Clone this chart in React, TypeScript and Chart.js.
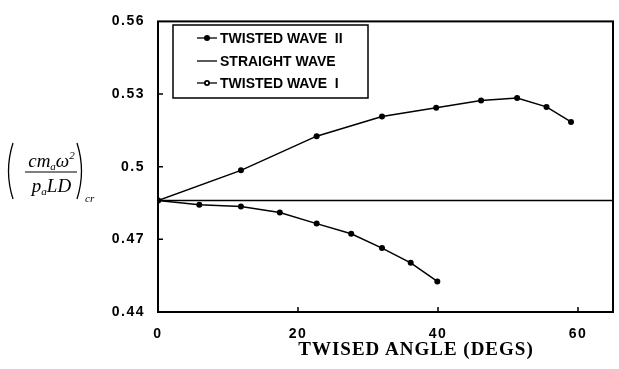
import React, { useEffect, useRef } from "react";
import { Chart, registerables } from "chart.js";

Chart.register(...registerables);

const xTicks = [0, 20, 40, 60];
const yTicks = [0.44, 0.47, 0.5, 0.53, 0.56];

const waveIIx = [0, 11.85, 22.66, 32.0, 39.74, 46.15, 51.3, 55.5, 59.0];
const waveIIy = [0.486, 0.4985, 0.5126, 0.5207, 0.5243, 0.5273, 0.5284, 0.5247, 0.5185];

const straightX = [0, 65];
const straightY = [0.486, 0.486];

const waveIx = [0, 5.9, 11.85, 17.4, 22.66, 27.6, 32.0, 36.1, 39.9];
const waveIy = [0.486, 0.4843, 0.4836, 0.4811, 0.4765, 0.4723, 0.4664, 0.4603, 0.4526];

const legendLabels = ["TWISTED WAVE  II", "STRAIGHT WAVE", "TWISTED WAVE  I"];
const xTitle = "TWISED ANGLE (DEGS)";

const pts = (xs: number[], ys: number[]) => xs.map((x, i) => ({ x, y: ys[i] }));

const framePlugin = {
  id: "frame",
  beforeDraw(chart: any) {
    chart.ctx.letterSpacing = "1.5px";
  },
  afterDraw(chart: any) {
    const { ctx, chartArea } = chart;
    ctx.letterSpacing = "0px";
    const { left, right, top, bottom } = chartArea;
    const xs = chart.scales.x;
    const ys = chart.scales.y;
    ctx.save();
    ctx.strokeStyle = "#000";
    ctx.lineWidth = 2;
    ctx.strokeRect(left, top, right - left, bottom - top);
    ctx.lineWidth = 1.5;
    ctx.beginPath();
    yTicks.slice(1, -1).forEach((v) => {
      const y = ys.getPixelForValue(v);
      ctx.moveTo(left, y);
      ctx.lineTo(left + 5, y);
    });
    xTicks.slice(1).forEach((v) => {
      const x = xs.getPixelForValue(v);
      ctx.moveTo(x, bottom);
      ctx.lineTo(x, bottom - 5);
    });
    ctx.stroke();

    // legend box
    const bx = 173, by = 25, bw = 195, bh = 73;
    ctx.fillStyle = "#fff";
    ctx.fillRect(bx, by, bw, bh);
    ctx.lineWidth = 1.5;
    ctx.strokeRect(bx, by, bw, bh);
    const rows = [38, 61, 83];
    ctx.font = "bold 14px 'Liberation Sans', Arial, sans-serif";
    ctx.textBaseline = "middle";
    ctx.textAlign = "left";
    rows.forEach((ry, i) => {
      ctx.strokeStyle = "#000";
      ctx.lineWidth = 1.3;
      ctx.beginPath();
      ctx.moveTo(197, ry);
      ctx.lineTo(217, ry);
      ctx.stroke();
      if (i === 0) {
        ctx.fillStyle = "#000";
        ctx.beginPath();
        ctx.arc(207, ry, 3, 0, Math.PI * 2);
        ctx.fill();
      } else if (i === 2) {
        ctx.fillStyle = "#000";
        ctx.beginPath();
        ctx.arc(207, ry, 3, 0, Math.PI * 2);
        ctx.fill();
        ctx.fillStyle = "#fff";
        ctx.beginPath();
        ctx.arc(207, ry, 1.2, 0, Math.PI * 2);
        ctx.fill();
      }
      ctx.fillStyle = "#000";
      ctx.fillText(legendLabels[i], 220, ry + 1);
    });
    ctx.restore();
  },
};

export default function App() {
  const ref = useRef<HTMLCanvasElement | null>(null);
  useEffect(() => {
    if (!ref.current) return;
    const tickFont = { family: "'Liberation Sans', Arial, sans-serif", size: 14, weight: "bold" as const };
    const chart = new Chart(ref.current, {
      type: "scatter",
      data: {
        datasets: [
          {
            label: legendLabels[0],
            data: pts(waveIIx, waveIIy),
            showLine: true,
            borderColor: "#000",
            backgroundColor: "#000",
            borderWidth: 1.5,
            pointRadius: 3,
            pointBorderWidth: 0,
          },
          {
            label: legendLabels[1],
            data: pts(straightX, straightY),
            showLine: true,
            borderColor: "#000",
            backgroundColor: "#000",
            borderWidth: 1.5,
            pointRadius: 0,
          },
          {
            label: legendLabels[2],
            data: pts(waveIx, waveIy),
            showLine: true,
            borderColor: "#000",
            backgroundColor: "#000",
            borderWidth: 1.5,
            pointRadius: 3,
            pointBorderWidth: 0,
          },
        ],
      },
      options: {
        responsive: false,
        animation: false,
        devicePixelRatio: 1,
        layout: { padding: { left: 0, right: 6, top: 15, bottom: 0 } },
        plugins: { legend: { display: false }, tooltip: { enabled: false } },
        scales: {
          x: {
            type: "linear",
            min: 0,
            max: 65,
            afterFit: (s: any) => {
              s.height = 57;
            },
            afterBuildTicks: (s: any) => {
              s.ticks = xTicks.map((v) => ({ value: v }));
            },
            grid: { display: false, drawTicks: false },
            border: { display: false },
            ticks: { color: "#000", font: tickFont, padding: 14, maxRotation: 0 },
          },
          y: {
            type: "linear",
            min: 0.44,
            max: 0.56,
            afterFit: (s: any) => {
              s.width = 158;
            },
            afterBuildTicks: (s: any) => {
              s.ticks = yTicks.map((v) => ({ value: v }));
            },
            grid: { display: false, drawTicks: false },
            border: { display: false },
            ticks: {
              color: "#000",
              font: tickFont,
              padding: 13,
              callback: (v: any) => String(Number(Number(v).toFixed(2))),
            },
          },
        },
      },
      plugins: [framePlugin],
    });
    return () => chart.destroy();
  }, []);

  const serif = "'Liberation Serif', 'Times New Roman', serif";
  return (
    <div style={{ position: "fixed", left: 0, top: 0, width: 619, height: 369, background: "#fff" }}>
      <canvas ref={ref} width={619} height={369} style={{ position: "absolute", left: 0, top: 0 }} />
      <svg width={100} height={80} style={{ position: "absolute", left: 0, top: 130 }}>
        <path d="M13 13 Q4 41 13 69" stroke="#000" strokeWidth={1.3} fill="none" />
        <path d="M77 13 Q86 41 77 69" stroke="#000" strokeWidth={1.3} fill="none" />
        <line x1={25} y1={42} x2={77} y2={42} stroke="#000" strokeWidth={1.2} />
      </svg>
      <div style={{ position: "absolute", left: 25, width: 53, top: 146, textAlign: "center", fontFamily: serif, fontStyle: "italic", fontSize: 19, lineHeight: "19px", whiteSpace: "nowrap" }}>
        cm<sub style={{ fontSize: 11, verticalAlign: -3 }}>a</sub>ω<sup style={{ fontSize: 11, verticalAlign: 8 }}>2</sup>
      </div>
      <div style={{ position: "absolute", left: 25, width: 53, top: 176, textAlign: "center", fontFamily: serif, fontStyle: "italic", fontSize: 19, lineHeight: "19px", whiteSpace: "nowrap" }}>
        p<sub style={{ fontSize: 11, verticalAlign: -3 }}>a</sub>LD
      </div>
      <div style={{ position: "absolute", left: 85, top: 193, fontFamily: serif, fontStyle: "italic", fontSize: 11, lineHeight: "11px" }}>cr</div>
      <div style={{ position: "absolute", left: 290, width: 252, top: 339, textAlign: "center", fontFamily: serif, fontWeight: "bold", fontSize: 19, lineHeight: "19px", letterSpacing: 1, whiteSpace: "nowrap" }}>
        {xTitle}
      </div>
    </div>
  );
}
